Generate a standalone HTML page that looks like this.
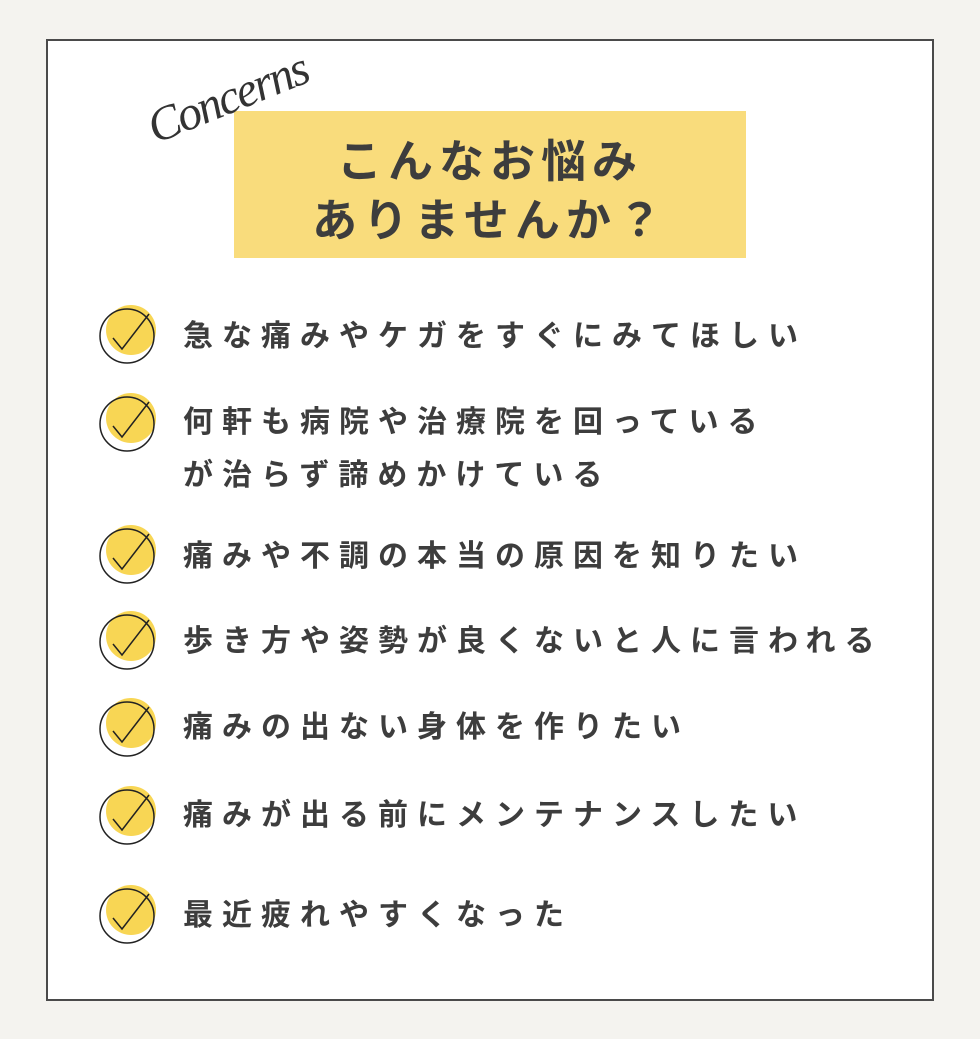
<!DOCTYPE html>
<html><head><meta charset="utf-8"><style>
body{margin:0;width:980px;height:1039px;background:#f4f3ef;position:relative;overflow:hidden;font-family:"Liberation Sans","Noto Sans CJK JP",sans-serif;}
.card{position:absolute;left:46px;top:39px;width:884px;height:958px;background:#fff;border:2px solid #4a4a4a;}
.yb{position:absolute;left:234px;top:111px;width:512px;height:147px;background:#f9dc7c;}
.t{position:absolute;left:234px;width:512px;text-align:center;font-size:45px;font-weight:bold;color:#3d3d3d;letter-spacing:6px;line-height:1;}
.sc{position:absolute;left:160px;top:100px;font-family:"Liberation Serif",serif;font-style:italic;font-size:48px;color:#333;transform:rotate(-22deg);transform-origin:left bottom;letter-spacing:-2px;}
.it{position:absolute;left:183px;font-size:30px;font-weight:bold;color:#3d3d3d;letter-spacing:9px;line-height:53px;white-space:nowrap;}
.ic{position:absolute;left:97px;width:62px;height:62px;}
</style></head><body>
<div class="card"></div>
<div class="yb"></div>
<div class="sc">Concerns</div>
<div class="t" style="top:139px">こんなお悩み</div>
<div class="t" style="top:198px">ありませんか？</div>

<svg width="0" height="0" style="position:absolute"><defs><g id="ck"><circle cx="34" cy="28" r="25" fill="#f8d654"/><circle cx="30" cy="34" r="27" fill="none" stroke="#222" stroke-width="1.5"/><path d="M16 36 L25 47 L52 12" fill="none" stroke="#222" stroke-width="1.5"/></g></defs></svg>

<svg class="ic" style="top:302px"><use href="#ck"/></svg>
<div class="it" style="top:310px">急な痛みやケガをすぐにみてほしい</div>
<svg class="ic" style="top:390px"><use href="#ck"/></svg>
<div class="it" style="top:396px">何軒も病院や治療院を回っている<br>が治らず諦めかけている</div>
<svg class="ic" style="top:522px"><use href="#ck"/></svg>
<div class="it" style="top:530px">痛みや不調の本当の原因を知りたい</div>
<svg class="ic" style="top:608px"><use href="#ck"/></svg>
<div class="it" style="top:615px">歩き方や姿勢が良くないと人に言われる</div>
<svg class="ic" style="top:695px"><use href="#ck"/></svg>
<div class="it" style="top:701px">痛みの出ない身体を作りたい</div>
<svg class="ic" style="top:783px"><use href="#ck"/></svg>
<div class="it" style="top:789px">痛みが出る前にメンテナンスしたい</div>
<svg class="ic" style="top:882px"><use href="#ck"/></svg>
<div class="it" style="top:889px">最近疲れやすくなった</div>
</body></html>
